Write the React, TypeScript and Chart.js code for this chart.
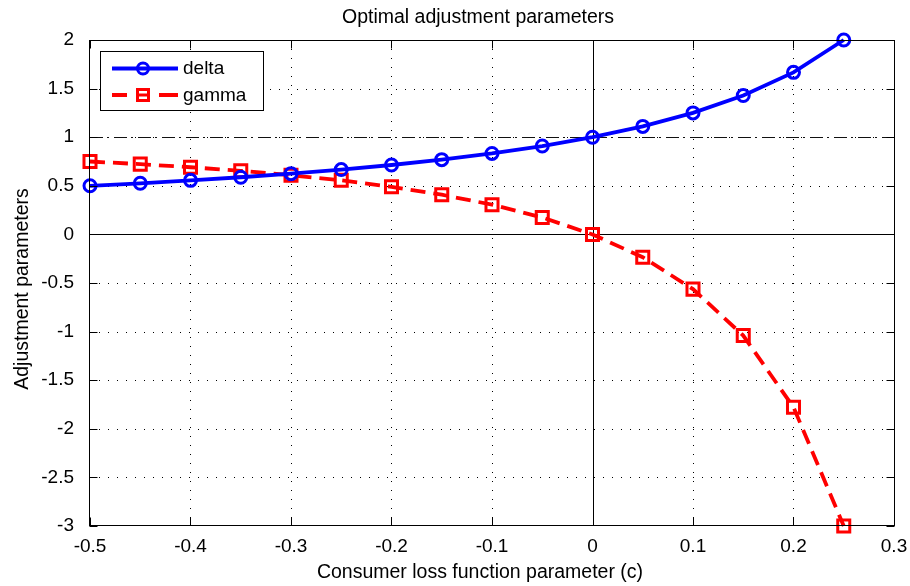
import React, { useEffect, useRef } from 'react';
import { Chart, registerables } from 'chart.js';

Chart.register(...registerables);

// ---- data ----
const cValues = [-0.5, -0.45, -0.4, -0.35, -0.3, -0.25, -0.2, -0.15, -0.1, -0.05, 0, 0.05, 0.1, 0.15, 0.2, 0.25];
const deltaValues = [0.5, 0.526, 0.556, 0.588, 0.625, 0.667, 0.714, 0.769, 0.833, 0.909, 1.0, 1.111, 1.25, 1.429, 1.667, 2.0];
const gammaValues = [0.75, 0.723, 0.691, 0.654, 0.609, 0.556, 0.49, 0.408, 0.306, 0.174, 0.0, -0.235, -0.563, -1.041, -1.778, -3.0];
const xTickValues = [-0.5, -0.4, -0.3, -0.2, -0.1, 0, 0.1, 0.2, 0.3];
const yTickValues = [-3, -2.5, -2, -1.5, -1, -0.5, 0, 0.5, 1, 1.5, 2];
const seriesLabels = ['delta', 'gamma'];
const titleText = 'Optimal adjustment parameters';
const xTitleText = 'Consumer loss function parameter (c)';
const yTitleText = 'Adjustment parameters';
const zeroLineX = 0;
const zeroLineY = 0;
const unityLineY = 1;

const FONT = '"Liberation Sans", Arial, Helvetica, sans-serif';
const BLUE = '#0000FF';
const RED = '#FF0000';

const fmt = (v: number) => String(Math.round(v * 10) / 10);

const matlabPlugin = {
  id: 'matlabAxes',
  beforeDatasetsDraw(chart: any) {
    const { ctx, chartArea: a, scales } = chart;
    const x = scales.x;
    const y = scales.y;
    ctx.save();
    ctx.strokeStyle = '#000';
    ctx.lineWidth = 1;
    ctx.setLineDash([1, 8]);
    x.ticks.forEach((t: any) => {
      const px = Math.round(x.getPixelForValue(t.value)) + 0.5;
      if (px <= a.left + 1 || px >= a.right - 1) return;
      ctx.beginPath();
      ctx.moveTo(px, a.top);
      ctx.lineTo(px, a.bottom);
      ctx.stroke();
    });
    y.ticks.forEach((t: any) => {
      const py = Math.round(y.getPixelForValue(t.value)) + 0.5;
      if (py <= a.top + 1 || py >= a.bottom - 1) return;
      ctx.beginPath();
      ctx.moveTo(a.left, py);
      ctx.lineTo(a.right, py);
      ctx.stroke();
    });
    ctx.setLineDash([]);
    ctx.lineWidth = 1;
    const x0 = Math.round(x.getPixelForValue(zeroLineX)) + 0.5;
    ctx.beginPath();
    ctx.moveTo(x0, a.top);
    ctx.lineTo(x0, a.bottom);
    ctx.stroke();
    const y0 = Math.round(y.getPixelForValue(zeroLineY)) + 0.5;
    ctx.beginPath();
    ctx.moveTo(a.left, y0);
    ctx.lineTo(a.right, y0);
    ctx.stroke();
    const y1 = Math.round(y.getPixelForValue(unityLineY)) + 0.5;
    ctx.setLineDash([13, 4, 2, 5]);
    ctx.lineWidth = 1.2;
    ctx.strokeStyle = '#111';
    ctx.beginPath();
    ctx.moveTo(a.left, y1);
    ctx.lineTo(a.right, y1);
    ctx.stroke();
    ctx.restore();
  },
  afterDatasetsDraw(chart: any) {
    const { ctx, chartArea: a, scales } = chart;
    const x = scales.x;
    const y = scales.y;
    ctx.save();
    ctx.setLineDash([]);
    ctx.strokeStyle = '#000';
    ctx.lineWidth = 1;
    const L = Math.round(a.left) - 0.5;
    const R = Math.round(a.right) + 0.5;
    const T = Math.round(a.top) + 0.5;
    const B = Math.round(a.bottom) - 0.5;
    ctx.strokeRect(L, T, R - L, B - T);
    const tl = 8;
    x.ticks.forEach((t: any) => {
      const px = Math.round(x.getPixelForValue(t.value)) + 0.5;
      ctx.beginPath();
      ctx.moveTo(px, B);
      ctx.lineTo(px, B - tl);
      ctx.moveTo(px, T);
      ctx.lineTo(px, T + tl);
      ctx.stroke();
    });
    y.ticks.forEach((t: any) => {
      const py = Math.round(y.getPixelForValue(t.value)) + 0.5;
      ctx.beginPath();
      ctx.moveTo(L, py);
      ctx.lineTo(L + tl, py);
      ctx.moveTo(R, py);
      ctx.lineTo(R - tl, py);
      ctx.stroke();
    });

    // legend
    const lx = 100.5, ly = 51.5, lw = 163, lh = 59;
    ctx.fillStyle = '#fff';
    ctx.fillRect(lx, ly, lw, lh);
    ctx.strokeStyle = '#000';
    ctx.lineWidth = 1;
    ctx.strokeRect(lx, ly, lw, lh);
    const r1 = 68.5, r2 = 95;
    ctx.strokeStyle = BLUE;
    ctx.lineWidth = 3.8;
    ctx.beginPath();
    ctx.moveTo(112, r1);
    ctx.lineTo(178, r1);
    ctx.stroke();
    ctx.lineWidth = 3;
    ctx.beginPath();
    ctx.arc(143, r1, 5.5, 0, Math.PI * 2);
    ctx.stroke();
    ctx.strokeStyle = RED;
    ctx.lineWidth = 3.8;
    ctx.beginPath();
    ctx.moveTo(112, r2);
    ctx.lineTo(127, r2);
    ctx.moveTo(159, r2);
    ctx.lineTo(178, r2);
    ctx.stroke();
    ctx.lineWidth = 3;
    ctx.strokeRect(137.5, r2 - 5.5, 11, 11);
    ctx.beginPath();
    ctx.moveTo(137.5, r2);
    ctx.lineTo(148.5, r2);
    ctx.stroke();
    ctx.fillStyle = '#000';
    ctx.font = `19px ${FONT}`;
    ctx.textAlign = 'left';
    ctx.textBaseline = 'middle';
    ctx.fillText(seriesLabels[0], 183, r1);
    ctx.fillText(seriesLabels[1], 183, r2 + 1);

    // titles
    ctx.font = `19.5px ${FONT}`;
    ctx.textBaseline = 'alphabetic';
    ctx.textAlign = 'center';
    ctx.fillText(titleText, 478, 23);
    ctx.fillText(xTitleText, 480, 578);
    ctx.translate(28, 289);
    ctx.rotate(-Math.PI / 2);
    ctx.fillText(yTitleText, 0, 0);
    ctx.restore();
  },
};

export default function App() {
  const ref = useRef<HTMLCanvasElement | null>(null);
  useEffect(() => {
    if (!ref.current) return;
    const chart = new Chart(ref.current, {
      type: 'line',
      data: {
        datasets: [
          {
            label: seriesLabels[0],
            data: cValues.map((c, i) => ({ x: c, y: deltaValues[i] })),
            borderColor: BLUE,
            borderWidth: 3.8,
            pointStyle: 'circle',
            pointRadius: 6,
            pointBorderWidth: 3,
            pointBorderColor: BLUE,
            pointBackgroundColor: 'rgba(0,0,0,0)',
            tension: 0,
            clip: false as any,
          },
          {
            label: seriesLabels[1],
            data: cValues.map((c, i) => ({ x: c, y: gammaValues[i] })),
            borderColor: RED,
            borderWidth: 3.8,
            borderDash: [15, 8],
            pointStyle: 'rect',
            pointRadius: 8.5,
            pointBorderWidth: 3,
            pointBorderColor: RED,
            pointBackgroundColor: 'rgba(0,0,0,0)',
            tension: 0,
            clip: false as any,
          },
        ],
      },
      options: {
        animation: false,
        responsive: false,
        devicePixelRatio: 1,
        layout: { padding: { top: 40, right: 16, left: 0, bottom: 0 } },
        plugins: {
          legend: { display: false },
          title: { display: false },
          tooltip: { enabled: false },
        },
        scales: {
          x: {
            type: 'linear',
            min: -0.5,
            max: 0.3,
            afterBuildTicks: (s: any) => {
              s.ticks = xTickValues.map((v) => ({ value: v }));
            },
            afterFit: (s: any) => {
              s.height = 60;
              s.paddingLeft = 0;
              s.paddingRight = 0;
            },
            grid: { display: false },
            border: { display: false },
            ticks: {
              color: '#000',
              padding: 1,
              maxRotation: 0,
              autoSkip: false,
              font: { family: FONT, size: 19, lineHeight: 1.2 },
              callback: (v: any) => fmt(Number(v)),
            },
          },
          y: {
            type: 'linear',
            min: -3,
            max: 2,
            afterBuildTicks: (s: any) => {
              s.ticks = yTickValues.map((v) => ({ value: v }));
            },
            afterFit: (s: any) => {
              s.width = 90;
              s.paddingTop = 0;
              s.paddingBottom = 0;
            },
            grid: { display: false },
            border: { display: false },
            ticks: {
              color: '#000',
              padding: 8,
              autoSkip: false,
              font: { family: FONT, size: 19, lineHeight: 1.2 },
              callback: (v: any) => fmt(Number(v)),
            },
          },
        },
      },
      plugins: [matlabPlugin],
    });
    return () => chart.destroy();
  }, []);
  return (
    <div style={{ position: 'absolute', left: 0, top: 0, width: 910, height: 586, background: '#fff' }}>
      <canvas ref={ref} width={910} height={586} style={{ display: 'block' }} />
    </div>
  );
}
